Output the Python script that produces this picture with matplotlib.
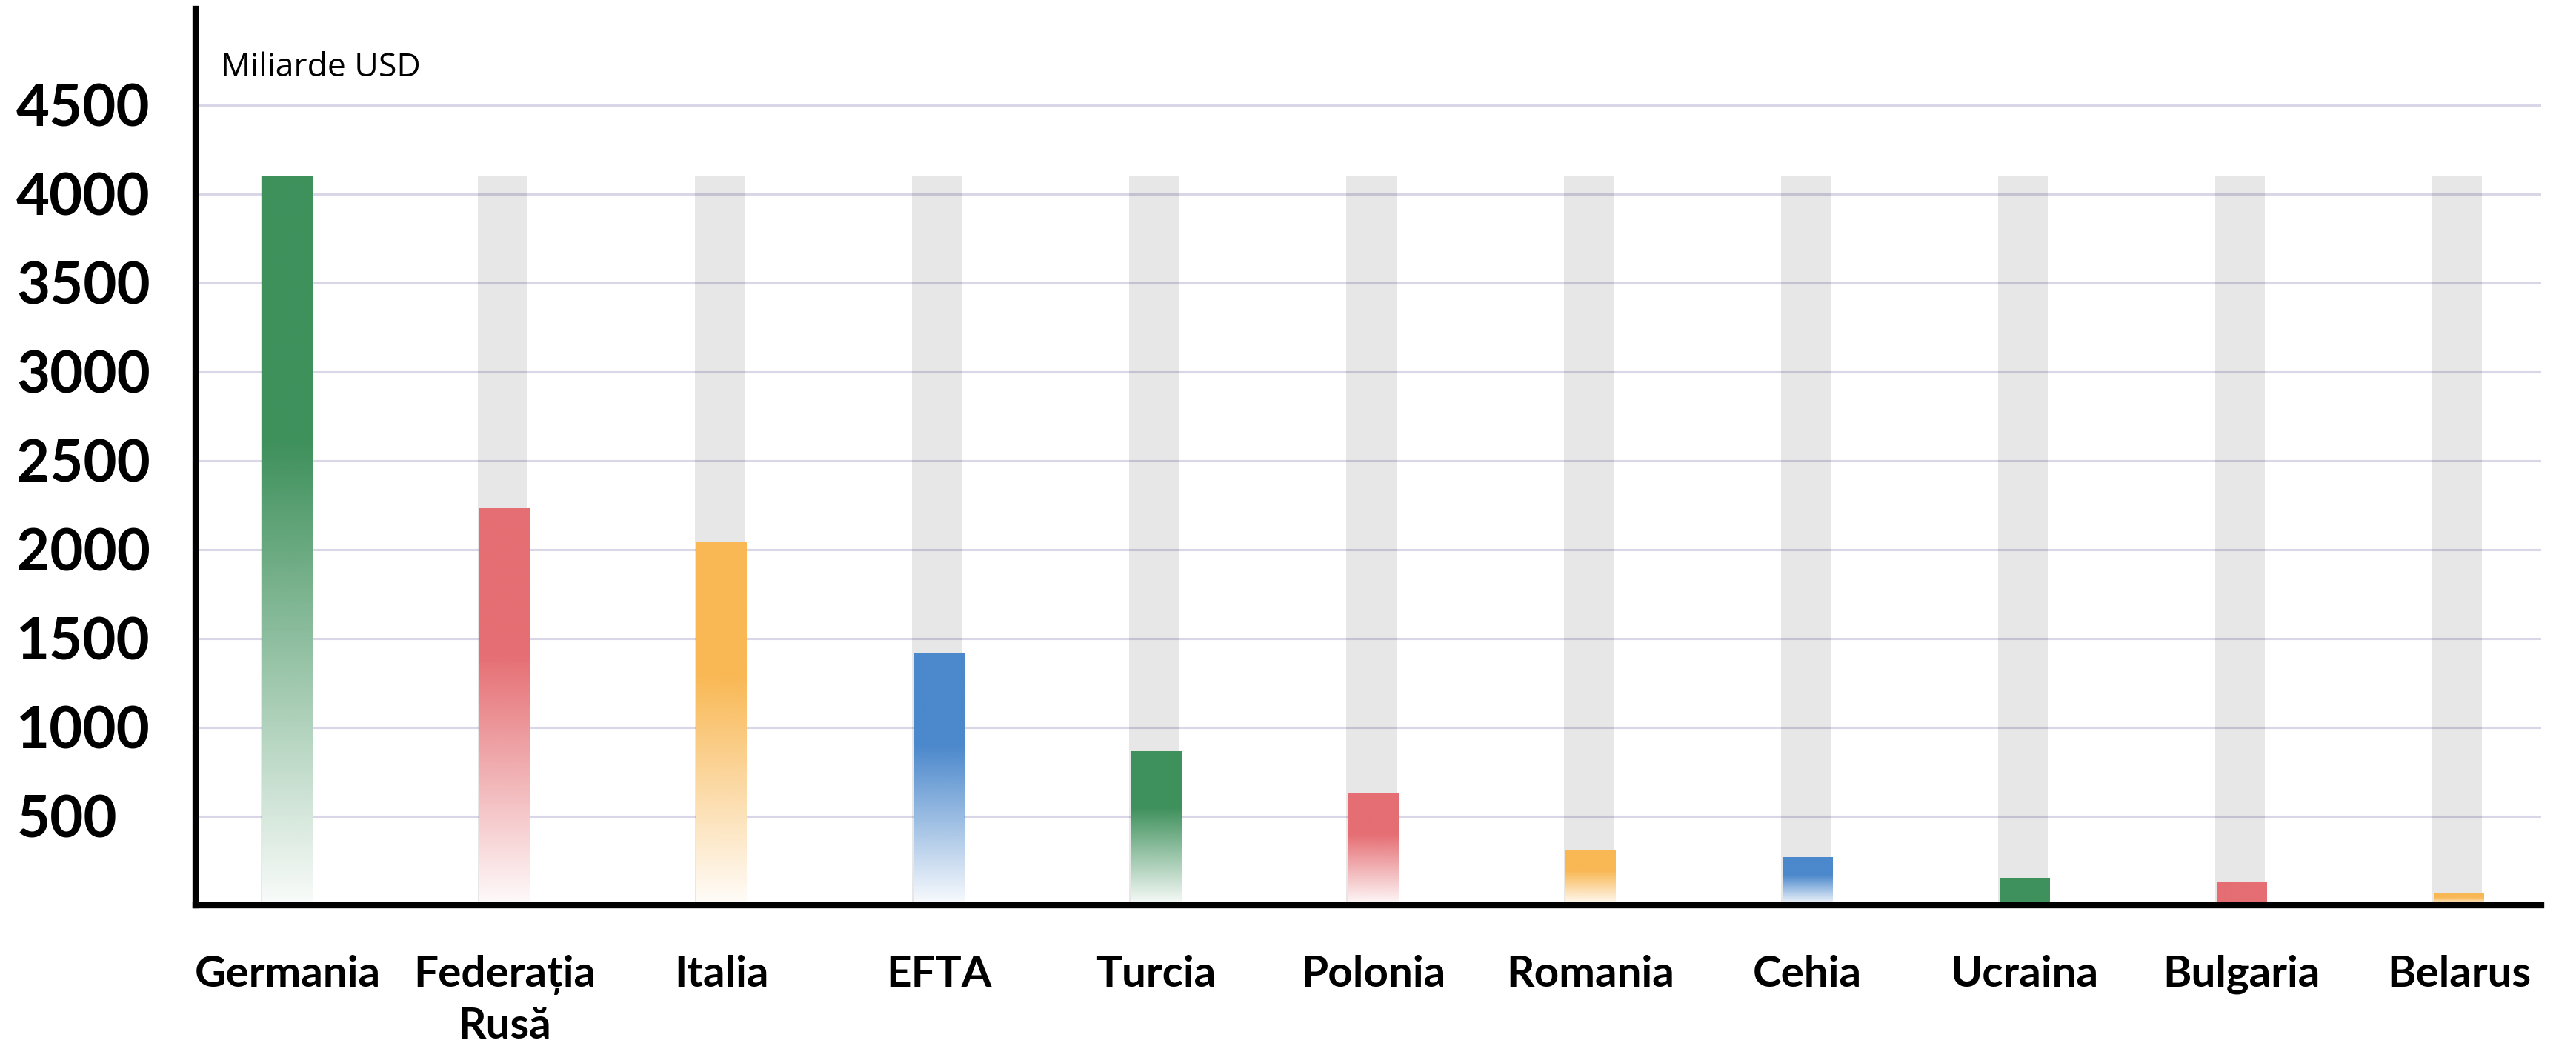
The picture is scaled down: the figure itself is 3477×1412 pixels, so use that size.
import numpy as np
import matplotlib
matplotlib.use("Agg")
import matplotlib.pyplot as plt
from matplotlib.colors import to_rgb

# data (miliarde USD)
countries = ["Germania", "Federația\nRusă", "Italia", "EFTA", "Turcia", "Polonia",
             "Romania", "Cehia", "Ucraina", "Bulgaria", "Belarus"]
values = [4100, 2230, 2045, 1420, 863, 631, 308, 268, 152, 132, 68]
background_value = 4100
fade = [True, True, True, True, True, True, True, True, False, False, True]
yticks = [500, 1000, 1500, 2000, 2500, 3000, 3500, 4000, 4500]

palette = ["#3f915c", "#e56e73", "#f9b854", "#4b88cc"]
bar_colors = [palette[i % 4] for i in range(len(countries))]

label_font = ["Lato", "Open Sans", "DejaVu Sans"]

fig = plt.figure(figsize=(34.77, 14.12), dpi=100)
ax = fig.add_axes([0.0759, 0.1346, 0.9107, 0.857])

x = np.arange(len(countries))
w = 0.23

# grey "track" behind each bar (semi transparent so the grid shows through darker)
ax.bar(x - 0.008, [background_value] * len(x), width=w, color="black", alpha=0.094,
       linewidth=0, zorder=2)
# white underlay so the faded part of a bar goes to white, not grey
ax.bar(x, values, width=w, color="white", linewidth=0, zorder=2.5)

# coloured bars with vertical fade towards the bottom
n = 400
t = np.linspace(0, 1, n)
for xi, v, c, f in zip(x, values, bar_colors, fade):
    rgb = to_rgb(c)
    if f:
        alpha = np.where(t >= 0.63, 1.0, 0.03 + 0.97 * t / 0.63)
    else:
        alpha = np.ones(n)
    img = np.zeros((n, 1, 4))
    img[:, 0, :3] = rgb
    img[:, 0, 3] = alpha
    ax.imshow(img, extent=(xi - w / 2, xi + w / 2, 0, v), origin="lower",
              aspect="auto", interpolation="bilinear", zorder=3)

ax.set_xlim(-0.423, 10.38)
ax.set_ylim(0, 5040)

ax.set_yticks(yticks)
ax.set_yticklabels([str(v) for v in yticks], fontsize=56, fontweight="bold",
                   family=label_font, ha="left")
ax.tick_params(axis="y", length=0, pad=174)
ax.set_xticks(x)
ax.set_xticklabels(countries, fontsize=42, fontweight="bold", family=label_font,
                   linespacing=1.38)
ax.tick_params(axis="x", length=0, pad=48)

ax.yaxis.grid(True, color="#d9d7e7", linewidth=2.2, zorder=1)
ax.set_axisbelow(True)

for s in ["top", "right"]:
    ax.spines[s].set_visible(False)
ax.spines["left"].set_linewidth(6)
ax.spines["bottom"].set_linewidth(6)
ax.spines["left"].set_zorder(5)
ax.spines["bottom"].set_zorder(5)

ax.text(0.0108, 0.925, "Miliarde USD", transform=ax.transAxes, fontsize=32,
        family=["Open Sans", "DejaVu Sans"], va="baseline", ha="left")

fig.savefig("out.png", dpi=100)
